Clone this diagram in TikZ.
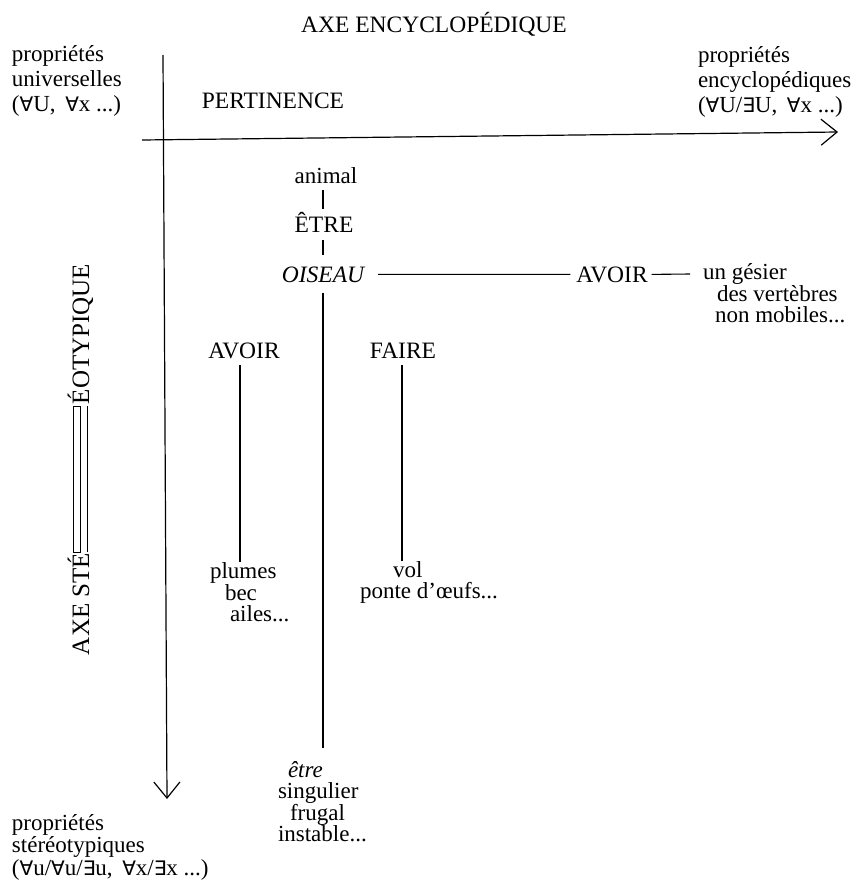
\documentclass[tikz,border=0pt]{standalone}
\usepackage{fontspec}
\setmainfont{Liberation Serif}
\newfontfamily\qfont{DejaVu Sans}
\usetikzlibrary{arrows.meta}
\newcommand{\fa}{{\qfont\fontsize{20}{20}\selectfont ∀}}
\newcommand{\ex}{{\qfont\fontsize{20}{20}\selectfont ∃}}
\begin{document}
\begin{tikzpicture}[x=1pt,y=-1pt,
  lbl/.style={inner sep=0pt, outer sep=0pt, font=\fontsize{23}{25}\selectfont, align=left},
  capsl/.style={inner sep=0pt, outer sep=0pt, font=\fontsize{23.5}{24}\selectfont},
  vcap/.style={inner sep=0pt, outer sep=0pt, font=\fontsize{25}{25}\selectfont, rotate=90, anchor=base west},
  ax/.style={line width=1.2pt, -{Straight Barb[length=16pt,width=26pt,line width=1.2pt]}},
  ln/.style={line width=1.1pt}]
\useasboundingbox (0,0) rectangle (862,883);
% titles and axis labels
\node[capsl, anchor=base] (title) at (434,33) {AXE ENCYCLOPÉDIQUE};
\node[lbl, anchor=north west] (univ) at (12,46) {propriétés\\universelles\\(\fa U,\, \fa x ...)};
\node[capsl, anchor=base] (pert) at (273,108) {PERTINENCE};
\node[lbl, anchor=north west] (ency) at (698,47) {propriétés\\encyclopédiques\\(\fa U/\ex U,\, \fa x ...)};
\node[lbl, anchor=north west, font=\fontsize{23}{22.5}\selectfont] (stereo) at (12,814) {propriétés\\stéréotypiques\\(\fa u/\fa u/\ex u,\, \fa x/\ex x ...)};
% axes
\coordinate (vtop) at (163,55);
\coordinate (vbot) at (167,799);
\coordinate (hl) at (142,140);
\coordinate (hr) at (838,132);
\draw[ax] (vtop) -- (vbot);
\draw[ax] (hl) -- (hr);
% vertical caption
\node[vcap] (axs) at (89,655) {AXE STÉ};
\node[vcap] (eot) at (89,404) {ÉOTYPIQUE};
\draw[line width=0.9pt] (73,406) rectangle (80,552);
\draw[line width=0.9pt] (87,406) -- (87,552);
% central column
\node[lbl, anchor=base] (animal) at (326,183) {animal};
\node[capsl, anchor=base] (etre) at (324,232) {ÊTRE};
\node[capsl, anchor=base, font=\fontsize{23.5}{24}\selectfont\itshape] (ois) at (323,282) {OISEAU};
\draw[ln] ([shift={(-3pt,-7pt)}]animal.south) -- ([shift={(-1pt,3pt)}]etre.north);
\draw[ln] ([shift={(-1pt,-8pt)}]etre.south) -- ([yshift=11pt]ois.north);
\node[capsl, anchor=base] (avR) at (612,282) {AVOIR};
\draw[ln] ([xshift=14pt]ois.east) -- ([xshift=-6pt]avR.west);
\coordinate (gz) at (690,274);
\draw[ln] ([xshift=4pt]avR.east) -- (gz);
\node[lbl, anchor=north west, font=\fontsize{23}{21.5}\selectfont] (ges) at (703,264) {un gésier\\\hspace*{14pt}des vertèbres\\\hspace*{12pt}non mobiles...};
\node[capsl, anchor=base] (avL) at (244,358) {AVOIR};
\node[capsl, anchor=base] (faire) at (403,358) {FAIRE};
\node[lbl, anchor=north west, font=\fontsize{23}{20.5}\selectfont] (plumes) at (210,563) {plumes\\\hspace*{15pt}bec\\\hspace*{20pt}ailes...};
\node[lbl, anchor=north west, font=\fontsize{23}{21}\selectfont] (vol) at (360,562) {\hspace*{33pt}vol\\ponte d’œufs...};
\node[lbl, anchor=north west, font=\fontsize{23}{21}\selectfont] (etb) at (278,761) {\hspace*{10pt}\textit{être}\\singulier\\\hspace*{12pt}frugal\\instable...};
\draw[ln] ([shift={(-4pt,-7pt)}]avL.south) -- ([xshift=-4pt,yshift=1pt]avL.south |- plumes.north);
\draw[ln] ([shift={(-1pt,-7pt)}]faire.south) -- ([xshift=-1pt,yshift=1pt]faire.south |- vol.north);
\draw[ln] ([yshift=-11pt]ois.south) -- ([yshift=13pt]ois.south |- etb.north);
\end{tikzpicture}
\end{document}
